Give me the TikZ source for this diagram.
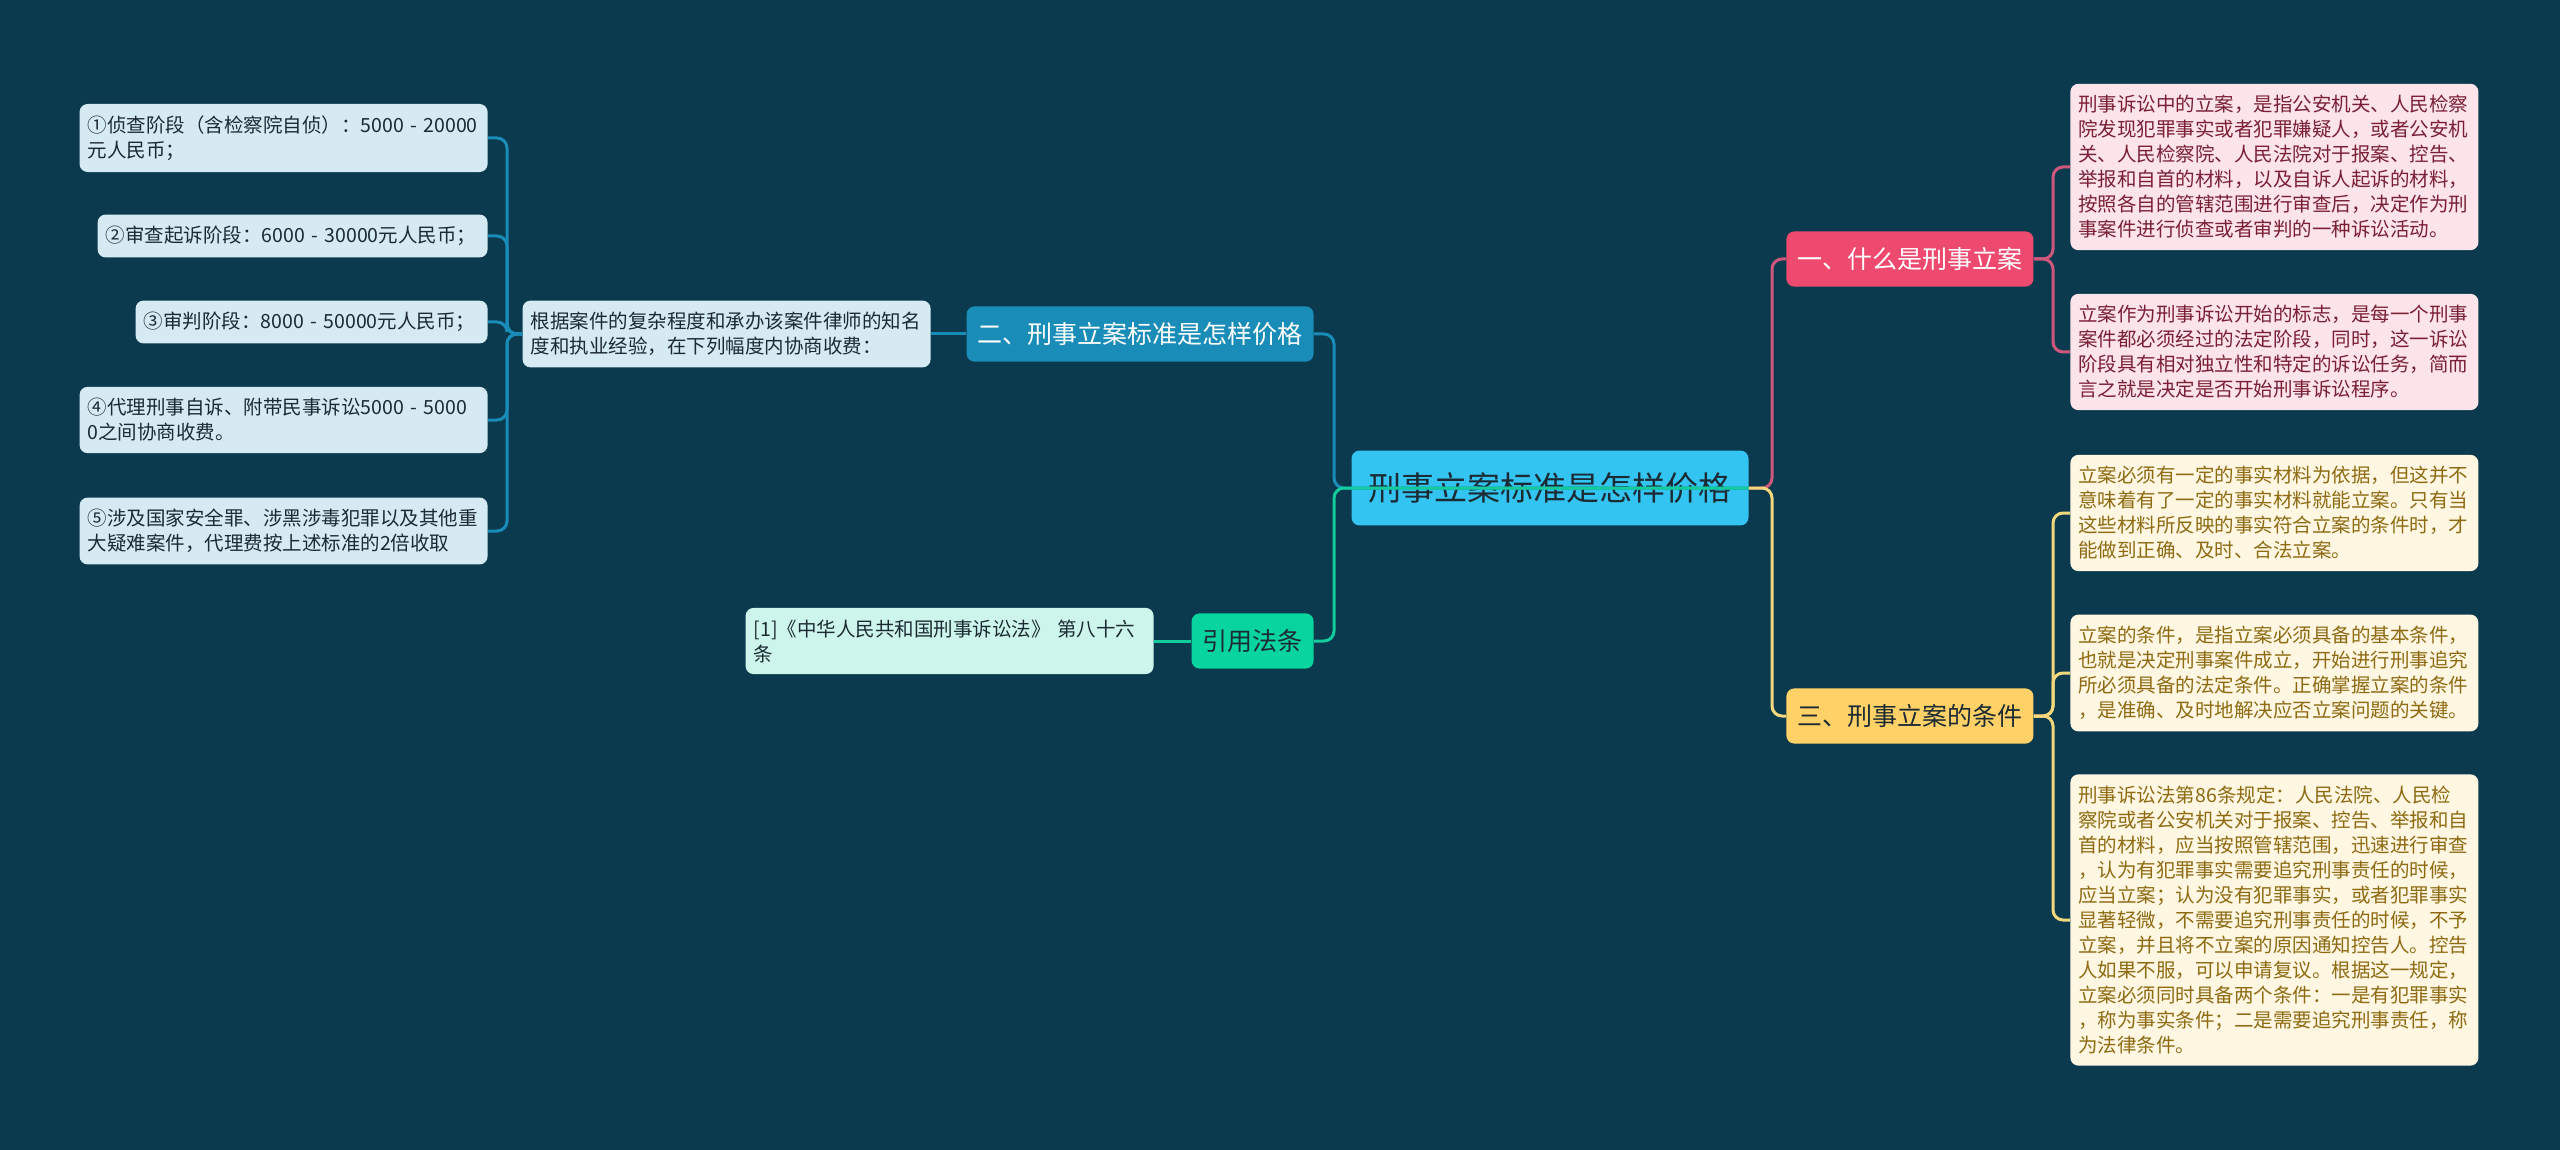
\documentclass[tikz,border=0pt]{standalone}
\usepackage{fontspec}
\setmainfont{Noto Sans CJK SC}
\usepackage{tikz}
\usetikzlibrary{positioning}
\definecolor{bgdark}{HTML}{0B3A4E}
\definecolor{rootblue}{HTML}{33C4F2}
\definecolor{seablue}{HTML}{1A8CB8}
\definecolor{paleblue}{HTML}{D5EAF2}
\definecolor{mint}{HTML}{08D49D}
\definecolor{mintline}{HTML}{12CC9B}
\definecolor{palemint}{HTML}{CDF5EC}
\definecolor{rose}{HTML}{EE4A70}
\definecolor{roseline}{HTML}{D0577C}
\definecolor{palerose}{HTML}{FCE4EA}
\definecolor{rosetext}{HTML}{7A1F35}
\definecolor{amber}{HTML}{FFD166}
\definecolor{amberline}{HTML}{F2D77C}
\definecolor{cream}{HTML}{FFF7E1}
\definecolor{ambertext}{HTML}{8E6A12}
\definecolor{inkdark}{HTML}{1C2B33}

\begin{document}
\begin{tikzpicture}[
  x=0.5pt, y=-0.5pt,
  root/.style={fill=rootblue, rounded corners=4pt, inner xsep=8.5pt, inner ysep=11pt,
               font=\fontsize{16.5pt}{20pt}\selectfont, text=inkdark},
  branch/.style={rounded corners=4pt, inner xsep=5.5pt, inner ysep=8pt,
               font=\fontsize{12.5pt}{15pt}\selectfont},
  leaf/.style={rounded corners=4pt, inner xsep=4pt, inner ysep=5.8pt, align=left,
               font=\fontsize{9.75pt}{12.5pt}\selectfont},
  wide/.style={text width=196pt},
  link/.style={line width=1.5pt, rounded corners=5pt}
]
  \fill[bgdark] (0,0) rectangle (2560,1150);
  \useasboundingbox (0,0) rectangle (2560,1150);

  % Root
  \node[root] (root) at (1550,488) {刑事立案标准是怎样价格};

  % Left: price
  \node[branch, fill=seablue, text=white, anchor=east] (price) at (1314,334) {二、刑事立案标准是怎样价格};
  \node[leaf, wide, fill=paleblue, text=inkdark, anchor=east] (basis) at (931,334)
    {根据案件的复杂程度和承办该案件律师的知名\\度和执业经验，在下列幅度内协商收费：};
  \node[leaf, wide, fill=paleblue, text=inkdark, anchor=east] (fee1) at (488,138)
    {①侦查阶段（含检察院自侦）：5000 - 20000\\元人民币；};
  \node[leaf, text width=187pt, fill=paleblue, text=inkdark, anchor=east] (fee2) at (488,236)
    {②审查起诉阶段：6000 - 30000元人民币；};
  \node[leaf, text width=168pt, fill=paleblue, text=inkdark, anchor=east] (fee3) at (488,322)
    {③审判阶段：8000 - 50000元人民币；};
  \node[leaf, wide, fill=paleblue, text=inkdark, anchor=east] (fee4) at (488,420)
    {④代理刑事自诉、附带民事诉讼5000 - 5000\\0之间协商收费。};
  \node[leaf, wide, fill=paleblue, text=inkdark, anchor=east] (fee5) at (488,531)
    {⑤涉及国家安全罪、涉黑涉毒犯罪以及其他重\\大疑难案件，代理费按上述标准的2倍收取};

  % Left: cited law
  \node[branch, fill=mint, text=inkdark, anchor=east] (cite) at (1314,641) {引用法条};
  \node[leaf, wide, fill=palemint, text=inkdark, anchor=east] (law) at (1154,641)
    {[1]《中华人民共和国刑事诉讼法》 第八十六\\条};

  % Right: what
  \node[branch, fill=rose, text=white, anchor=west] (what) at (1786,259) {一、什么是刑事立案};
  \node[leaf, wide, fill=palerose, text=rosetext, anchor=west] (defA) at (2070,167)
    {刑事诉讼中的立案，是指公安机关、人民检察\\院发现犯罪事实或者犯罪嫌疑人，或者公安机\\关、人民检察院、人民法院对于报案、控告、\\举报和自首的材料，以及自诉人起诉的材料，\\按照各自的管辖范围进行审查后，决定作为刑\\事案件进行侦查或者审判的一种诉讼活动。};
  \node[leaf, wide, fill=palerose, text=rosetext, anchor=west] (defB) at (2070,352)
    {立案作为刑事诉讼开始的标志，是每一个刑事\\案件都必须经过的法定阶段，同时，这一诉讼\\阶段具有相对独立性和特定的诉讼任务，简而\\言之就是决定是否开始刑事诉讼程序。};

  % Right: conditions
  \node[branch, fill=amber, text=inkdark, anchor=west] (cond) at (1786,716) {三、刑事立案的条件};
  \node[leaf, wide, fill=cream, text=ambertext, anchor=west] (condA) at (2070,513)
    {立案必须有一定的事实材料为依据，但这并不\\意味着有了一定的事实材料就能立案。只有当\\这些材料所反映的事实符合立案的条件时，才\\能做到正确、及时、合法立案。};
  \node[leaf, wide, fill=cream, text=ambertext, anchor=west] (condB) at (2070,673)
    {立案的条件，是指立案必须具备的基本条件，\\也就是决定刑事案件成立，开始进行刑事追究\\所必须具备的法定条件。正确掌握立案的条件\\，是准确、及时地解决应否立案问题的关键。};
  \node[leaf, wide, fill=cream, text=ambertext, anchor=west] (condC) at (2070,920)
    {刑事诉讼法第86条规定：人民法院、人民检\\察院或者公安机关对于报案、控告、举报和自\\首的材料，应当按照管辖范围，迅速进行审查\\，认为有犯罪事实需要追究刑事责任的时候，\\应当立案；认为没有犯罪事实，或者犯罪事实\\显著轻微，不需要追究刑事责任的时候，不予\\立案，并且将不立案的原因通知控告人。控告\\人如果不服，可以申请复议。根据这一规定，\\立案必须同时具备两个条件：一是有犯罪事实\\，称为事实条件；二是需要追究刑事责任，称\\为法律条件。};

  % Connectors
  \draw[link, seablue] (price.west) -- (basis.east);
  \foreach \n in {fee1,fee2,fee3,fee4,fee5}
    \draw[link, seablue] (\n.east) -| (507,334) [sharp corners] -- (basis.west);
  \draw[link, mintline] (cite.west) -- (law.east);

  \draw[link, seablue] (price.east) -| (1334,488) [sharp corners] -- (root.east);
  \draw[link, mintline] (cite.east) -| (1334,488) [sharp corners] -- (root.east);
  \draw[link, roseline] (what.west) -| (1772,488) [sharp corners] -- (root.east);
  \draw[link, amberline] (cond.west) -| (1772,488) [sharp corners] -- (root.east);

  \foreach \n in {defA,defB}
    \draw[link, roseline] (\n.west) -| (2053,259) [sharp corners] -- (what.east);
  \foreach \n in {condA,condB,condC}
    \draw[link, amberline] (\n.west) -| (2053,716) [sharp corners] -- (cond.east);
\end{tikzpicture}
\end{document}
